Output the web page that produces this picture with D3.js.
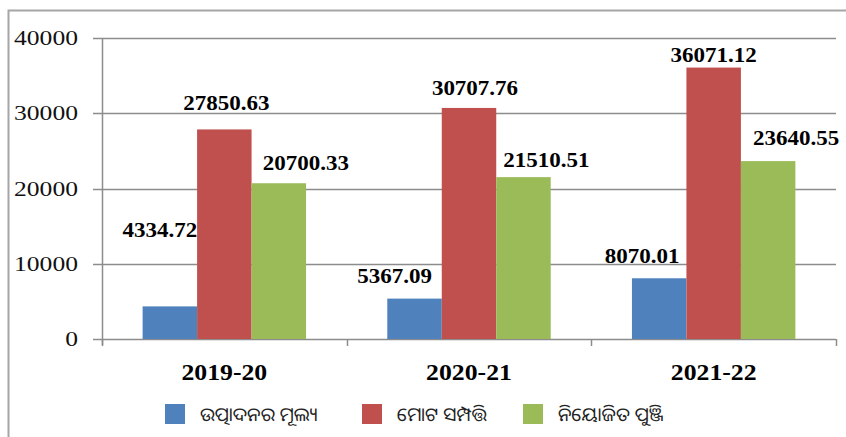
<!DOCTYPE html>
<html>
<head>
<meta charset="utf-8">
<script src="https://cdn.jsdelivr.net/npm/d3@7"></script>
<style>
  body { margin: 0; background: white; }
  svg { display: block; }
</style>
</head>
<body>
<div class="content"></div>
<script>
// data
const years = ['2019-20', '2020-21', '2021-22']
const seriesNames = ['ଉତ୍ପାଦନର ମୂଲ୍ୟ', 'ମୋଟ ସମ୍ପତ୍ତି', 'ନିୟୋଜିତ ପୁଞ୍ଜି']
const outputValue = [4334.72, 5367.09, 8070.01]
const totalAssets = [27850.63, 30707.76, 36071.12]
const investedCapital = [20700.33, 21510.51, 23640.55]
const yTicks = [0, 10000, 20000, 30000, 40000]
const colors = ['#4F81BD', '#C0504D', '#9BBB59']

// hand placed label nudges (px) like the original, [series][year] -> [dx, dy]
const labelNudge = [
    [[-10, -69], [-20, -16], [-17, -15]],
    [[2, -19], [6, -13], [0, -6]],
    [[27, -13], [23, -10], [28, -16]]
]

const width = 846
const height = 437
const plotLeft = 102
const plotRight = 836
const plotTop = 38
const plotBottom = 339
const stretch = 1.15   // text in the picture is a bit wide

const svg = d3.select('div.content')
    .append('svg')
    .attr('width', width)
    .attr('height', height)

// outer frame (runs off right/bottom edges)
svg.append('path')
    .attr('d', `M8.5,${height} V10.5 H${width}`)
    .attr('fill', 'none')
    .attr('stroke', '#a6a6a6')
    .attr('stroke-width', 2)

const y = d3.scaleLinear().domain([0, 40000]).range([plotBottom, plotTop])
const x0 = d3.scaleBand().domain(years).range([plotLeft, plotRight]).paddingInner(0.332).paddingOuter(0.166)
const keys = [0, 1, 2]
const x1 = d3.scaleBand().domain(keys).range([0, x0.bandwidth()])
const series = [outputValue, totalAssets, investedCapital]

// gridlines + y ticks
svg.append('g')
    .selectAll('line')
    .data(yTicks)
    .join('line')
    .attr('x1', plotLeft - 9)
    .attr('x2', plotRight)
    .attr('y1', d => Math.round(y(d)) + 0.5)
    .attr('y2', d => Math.round(y(d)) + 0.5)
    .attr('stroke', '#8c8c8c')
    .attr('stroke-width', 1.5)

svg.append('g')
    .selectAll('text')
    .data(yTicks)
    .join('text')
    .attr('transform', d => `translate(78, ${y(d) + 7}) scale(1.28, 1)`)
    .attr('text-anchor', 'end')
    .style('font-family', '"Liberation Serif", "Times New Roman", serif')
    .style('font-size', '20px')
    .attr('fill', '#111')
    .text(d => d)

// bars and labels, one series at a time so later bars sit over earlier labels
keys.forEach(k => {
    const g = svg.append('g')
    g.selectAll('rect')
        .data(years)
        .join('rect')
        .attr('x', d => x0(d) + x1(k))
        .attr('y', (d, i) => y(series[k][i]))
        .attr('width', x1.bandwidth())
        .attr('height', (d, i) => plotBottom - y(series[k][i]))
        .attr('fill', colors[k])
    g.selectAll('text')
        .data(years)
        .join('text')
        .attr('transform', (d, i) => {
            let cx = x0(d) + x1(k) + x1.bandwidth() / 2 + labelNudge[k][i][0]
            let cy = y(series[k][i]) + labelNudge[k][i][1]
            return `translate(${cx}, ${cy}) scale(${stretch}, 1)`
        })
        .attr('text-anchor', 'middle')
        .style('font-family', '"Liberation Serif", "Times New Roman", serif')
        .style('font-size', '20px')
        .style('font-weight', 'bold')
        .attr('fill', '#000')
        .text((d, i) => series[k][i].toFixed(2))
})

// axes lines
svg.append('line')
    .attr('x1', plotLeft + 0.5).attr('x2', plotLeft + 0.5)
    .attr('y1', plotTop).attr('y2', plotBottom + 6)
    .attr('stroke', '#8c8c8c').attr('stroke-width', 1.5)

const xTickPos = years.map(d => x0(d) - x0.step() * x0.paddingInner() / 2).concat([plotRight])
svg.append('g')
    .selectAll('line')
    .data(xTickPos)
    .join('line')
    .attr('x1', d => Math.round(d) + 0.5)
    .attr('x2', d => Math.round(d) + 0.5)
    .attr('y1', plotBottom)
    .attr('y2', plotBottom + 7)
    .attr('stroke', '#8c8c8c')
    .attr('stroke-width', 1.5)

svg.append('g')
    .selectAll('text')
    .data(years)
    .join('text')
    .attr('transform', d => `translate(${x0(d) + x0.bandwidth() / 2}, 380) scale(1.12, 1)`)
    .attr('text-anchor', 'middle')
    .style('font-family', '"Liberation Serif", "Times New Roman", serif')
    .style('font-size', '23px')
    .style('font-weight', 'bold')
    .attr('fill', '#000')
    .text(d => d)

// legend
const legendX = [165, 362, 523]
const legend = svg.append('g')
    .selectAll('g')
    .data(keys)
    .join('g')
    .attr('transform', k => `translate(${legendX[k]}, 404)`)
legend.append('rect')
    .attr('width', 20)
    .attr('height', 20)
    .attr('fill', k => colors[k])
legend.append('text')
    .attr('x', 35)
    .attr('y', 17)
    .style('font-family', '"Noto Sans Oriya", "Noto Sans", sans-serif')
    .style('font-size', '19px')
    .attr('fill', '#222')
    .text(k => seriesNames[k])
</script>
</body>
</html>
